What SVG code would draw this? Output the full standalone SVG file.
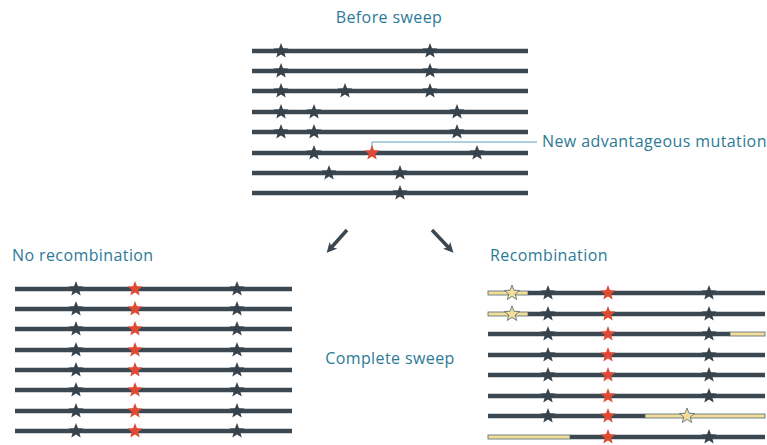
<svg xmlns="http://www.w3.org/2000/svg" xmlns:xlink="http://www.w3.org/1999/xlink" width="767" height="445" viewBox="0 0 767 445">
<style>
.chr{stroke:#3b4852;stroke-width:4.5;stroke-linecap:butt}
.yel{fill:#f4dc9a;stroke:#4f6a74;stroke-width:0.8}
.lbl{font-family:"Open Sans","Liberation Sans",sans-serif;font-size:16px;letter-spacing:0.4px;fill:#2c7a96}
.arr{stroke:#3b4852;stroke-width:3.5}
.callout{stroke:#5aa0b8;stroke-width:1;fill:none}
</style>
<defs>
<path id="star" d="M0,-8 L2,-2.75 L7.61,-2.47 L3.23,1.05 L4.7,6.47 L0,3.4 L-4.7,6.47 L-3.23,1.05 L-7.61,-2.47 L-2,-2.75Z"/>
<marker id="ah" markerWidth="10" markerHeight="10" refX="5" refY="5" orient="auto" markerUnits="userSpaceOnUse" viewBox="0 0 10 10"><path d="M0,0 L10,5 L0,10 L2.5,5Z" fill="#3b4852"/></marker>
</defs>
<rect width="767" height="445" fill="#ffffff"/>

<g id="labels">
<text class="lbl" x="389" y="23" text-anchor="middle">Before sweep</text>
<text class="lbl" x="542" y="147">New advantageous mutation</text>
<text class="lbl" x="12" y="261">No recombination</text>
<text class="lbl" x="490" y="261">Recombination</text>
<text class="lbl" x="390" y="364" text-anchor="middle">Complete sweep</text>
</g>

<g id="connectors">
<polyline class="callout" points="372,150 372,142 537,142"/>
<line class="arr" x1="347" y1="230" x2="330" y2="249" marker-end="url(#ah)"/>
<line class="arr" x1="432" y1="230" x2="450" y2="249" marker-end="url(#ah)"/>
</g>

<g id="before-sweep" fill="#36434d">
<line class="chr" x1="252" y1="51" x2="528" y2="51"/>
<line class="chr" x1="252" y1="71" x2="528" y2="71"/>
<line class="chr" x1="252" y1="91" x2="528" y2="91"/>
<line class="chr" x1="252" y1="112" x2="528" y2="112"/>
<line class="chr" x1="252" y1="132" x2="528" y2="132"/>
<line class="chr" x1="252" y1="153" x2="528" y2="153"/>
<line class="chr" x1="252" y1="173" x2="528" y2="173"/>
<line class="chr" x1="252" y1="193" x2="528" y2="193"/>
<use href="#star" x="281" y="51"/><use href="#star" x="430" y="51"/>
<use href="#star" x="281" y="71"/><use href="#star" x="430" y="71"/>
<use href="#star" x="281" y="91"/><use href="#star" x="345" y="91"/><use href="#star" x="430" y="91"/>
<use href="#star" x="281" y="112"/><use href="#star" x="314" y="112"/><use href="#star" x="457" y="112"/>
<use href="#star" x="281" y="132"/><use href="#star" x="314" y="132"/><use href="#star" x="457" y="132"/>
<use href="#star" x="314" y="153"/><use href="#star" x="372" y="153" fill="#e04a35"/><use href="#star" x="477" y="153"/>
<use href="#star" x="329" y="173"/><use href="#star" x="400" y="173"/>
<use href="#star" x="400" y="193"/>
</g>

<g id="no-recombination" fill="#36434d">
<g id="nr-lines">
<line class="chr" x1="15" y1="289" x2="292" y2="289"/>
<line class="chr" x1="15" y1="309" x2="292" y2="309"/>
<line class="chr" x1="15" y1="329" x2="292" y2="329"/>
<line class="chr" x1="15" y1="350" x2="292" y2="350"/>
<line class="chr" x1="15" y1="370" x2="292" y2="370"/>
<line class="chr" x1="15" y1="390" x2="292" y2="390"/>
<line class="chr" x1="15" y1="411" x2="292" y2="411"/>
<line class="chr" x1="15" y1="431" x2="292" y2="431"/>
</g>
<g id="nr-stars">
<use href="#star" x="76" y="289"/><use href="#star" x="135" y="289" fill="#e04a35"/><use href="#star" x="237" y="289"/>
<use href="#star" x="76" y="309"/><use href="#star" x="135" y="309" fill="#e04a35"/><use href="#star" x="237" y="309"/>
<use href="#star" x="76" y="329"/><use href="#star" x="135" y="329" fill="#e04a35"/><use href="#star" x="237" y="329"/>
<use href="#star" x="76" y="350"/><use href="#star" x="135" y="350" fill="#e04a35"/><use href="#star" x="237" y="350"/>
<use href="#star" x="76" y="370"/><use href="#star" x="135" y="370" fill="#e04a35"/><use href="#star" x="237" y="370"/>
<use href="#star" x="76" y="390"/><use href="#star" x="135" y="390" fill="#e04a35"/><use href="#star" x="237" y="390"/>
<use href="#star" x="76" y="411"/><use href="#star" x="135" y="411" fill="#e04a35"/><use href="#star" x="237" y="411"/>
<use href="#star" x="76" y="431"/><use href="#star" x="135" y="431" fill="#e04a35"/><use href="#star" x="237" y="431"/>
</g>
</g>

<g id="recombination" fill="#36434d">
<rect class="yel" x="488" y="291" width="40" height="4"/>
<line class="chr" x1="528" y1="293" x2="765" y2="293"/>
<rect class="yel" x="488" y="312" width="40" height="4"/>
<line class="chr" x1="528" y1="314" x2="765" y2="314"/>
<line class="chr" x1="488" y1="334" x2="730" y2="334"/>
<rect class="yel" x="730" y="332" width="35" height="4"/>
<line class="chr" x1="488" y1="355" x2="765" y2="355"/>
<line class="chr" x1="488" y1="375" x2="765" y2="375"/>
<line class="chr" x1="488" y1="396" x2="765" y2="396"/>
<line class="chr" x1="488" y1="416" x2="645" y2="416"/>
<rect class="yel" x="645" y="414" width="120" height="4"/>
<rect class="yel" x="488" y="435" width="82" height="4"/>
<line class="chr" x1="570" y1="437" x2="765" y2="437"/>

<use href="#star" x="512" y="293" class="yel"/><use href="#star" x="548" y="293"/><use href="#star" x="608" y="293" fill="#e04a35"/><use href="#star" x="709" y="293"/>
<use href="#star" x="512" y="314" class="yel"/><use href="#star" x="548" y="314"/><use href="#star" x="608" y="314" fill="#e04a35"/><use href="#star" x="709" y="314"/>
<use href="#star" x="548" y="334"/><use href="#star" x="608" y="334" fill="#e04a35"/><use href="#star" x="709" y="334"/>
<use href="#star" x="548" y="355"/><use href="#star" x="608" y="355" fill="#e04a35"/><use href="#star" x="709" y="355"/>
<use href="#star" x="548" y="375"/><use href="#star" x="608" y="375" fill="#e04a35"/><use href="#star" x="709" y="375"/>
<use href="#star" x="548" y="396"/><use href="#star" x="608" y="396" fill="#e04a35"/><use href="#star" x="709" y="396"/>
<use href="#star" x="548" y="416"/><use href="#star" x="608" y="416" fill="#e04a35"/><use href="#star" x="687" y="416" class="yel"/>
<use href="#star" x="608" y="437" fill="#e04a35"/><use href="#star" x="709" y="437"/>
</g>
</svg>
